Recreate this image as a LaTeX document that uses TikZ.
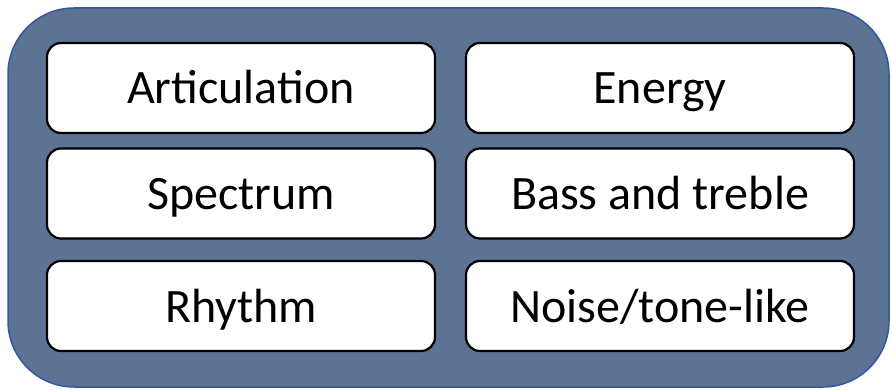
\documentclass[tikz,border=0pt]{standalone}
\usepackage{fontspec}
\setmainfont{Carlito}
\usetikzlibrary{positioning}
\definecolor{panel_blue}{RGB}{93,115,148}
\definecolor{panel_edge}{RGB}{52,88,158}

\begin{document}
\begin{tikzpicture}[x=1pt, y=-1pt, cell/.style={rectangle, rounded corners=14pt, draw=black, line width=2.2pt, fill=white, minimum width=388pt, minimum height=90pt, font=\fontsize{48}{56}\selectfont, text height=32pt, text depth=0pt, inner sep=0pt}]
      \useasboundingbox (0,0) rectangle (892,390);
      \draw[panel_edge, fill=panel_blue, line width=1.5pt, rounded corners=66pt] (8,8) rectangle (889,387);
      \node[cell] (artic) at (241,88) {Articulation};
      \node[cell] (energy) at (660,88) {Energy};
      \node[cell] (spec) at (241,193.5) {Spectrum};
      \node[cell] (bass) at (660,193.5) {Bass and treble};
      \node[cell] (rhythm) at (241,306) {Rhythm};
      \node[cell] (noise) at (660,306) {Noise/tone-like};
    \end{tikzpicture}
\end{document}
